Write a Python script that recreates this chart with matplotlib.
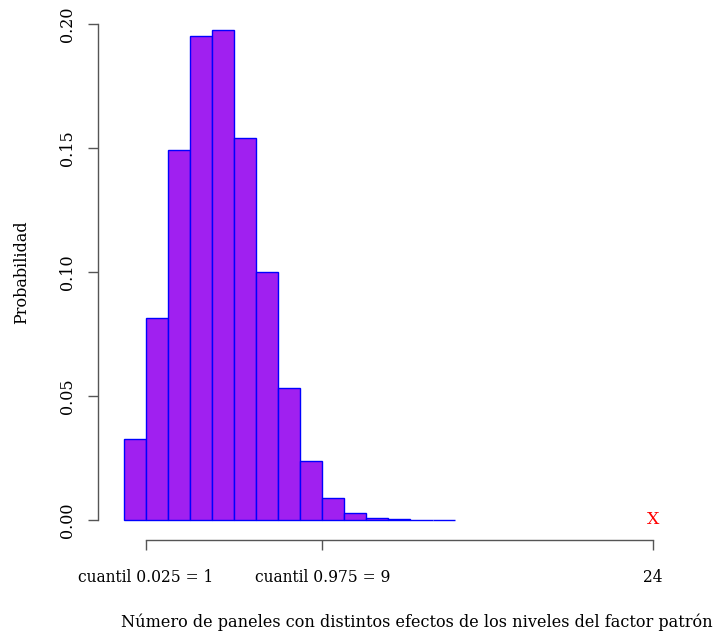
import matplotlib
matplotlib.use("Agg")
import matplotlib.pyplot as plt

# Data
values = list(range(0, 15))
probs = [0.0327, 0.0815, 0.1492, 0.1952, 0.1976, 0.1540, 0.1002, 0.0532,
         0.0238, 0.0088, 0.0028, 0.0008, 0.0003, 0.0001, 0.0001]
tick_pos = [1, 9, 24]
tick_labels = ["cuantil 0.025 = 1", "cuantil 0.975 = 9", "24"]
observed = 24
yticks = [0.00, 0.05, 0.10, 0.15, 0.20]

W, H = 717, 633
fig = plt.figure(figsize=(W / 100, H / 100), dpi=100)
plt.rcParams['font.family'] = ['DejaVu Serif']

# axes in pixel coords
px_l, px_r, px_t, px_b = 98, 700, 15, 545
ax = fig.add_axes([px_l / W, 1 - px_b / H, (px_r - px_l) / W, (px_b - px_t) / H])
xs = 22.04
x0 = 123.96
ax.set_xlim((px_l - x0) / xs, (px_r - x0) / xs)
ax.set_ylim(-(px_b - 520) / 2480, (520 - px_t) / 2480)

ax.bar(values, probs, width=1, align='edge', color='#A020F0', edgecolor='#0000FF', linewidth=1.0)
ax.text(observed, 0, 'X', color='red', ha='center', va='center', fontsize=12.5)

for s in ['top', 'right']:
    ax.spines[s].set_visible(False)
ax.spines['left'].set_bounds(0, 0.2)
ax.spines['bottom'].set_position(('data', -20 / 2480))
ax.spines['bottom'].set_bounds(1, 24)
for s in ['left', 'bottom']:
    ax.spines[s].set_color('#555555')
    ax.spines[s].set_linewidth(1.0)

ax.set_yticks(yticks)
ax.set_yticklabels([f"{v:.2f}" for v in yticks], rotation=90, va='center', fontsize=11.5)
ax.set_xticks(tick_pos)
ax.set_xticklabels(tick_labels, fontsize=11.2)
ax.tick_params(axis='both', color='#555555', length=7, width=1.0)
ax.tick_params(axis='x', pad=14)
ax.tick_params(axis='y', pad=9)

fig.text(22 / W, 1 - 272 / H, 'Probabilidad', rotation=90, ha='center', va='center', fontsize=11.5)
fig.text(417 / W, 1 - 622 / H, 'Número de paneles con distintos efectos de los niveles del factor patrón',
         ha='center', va='center', fontsize=11.6)

fig.savefig('out.png', dpi=100)
